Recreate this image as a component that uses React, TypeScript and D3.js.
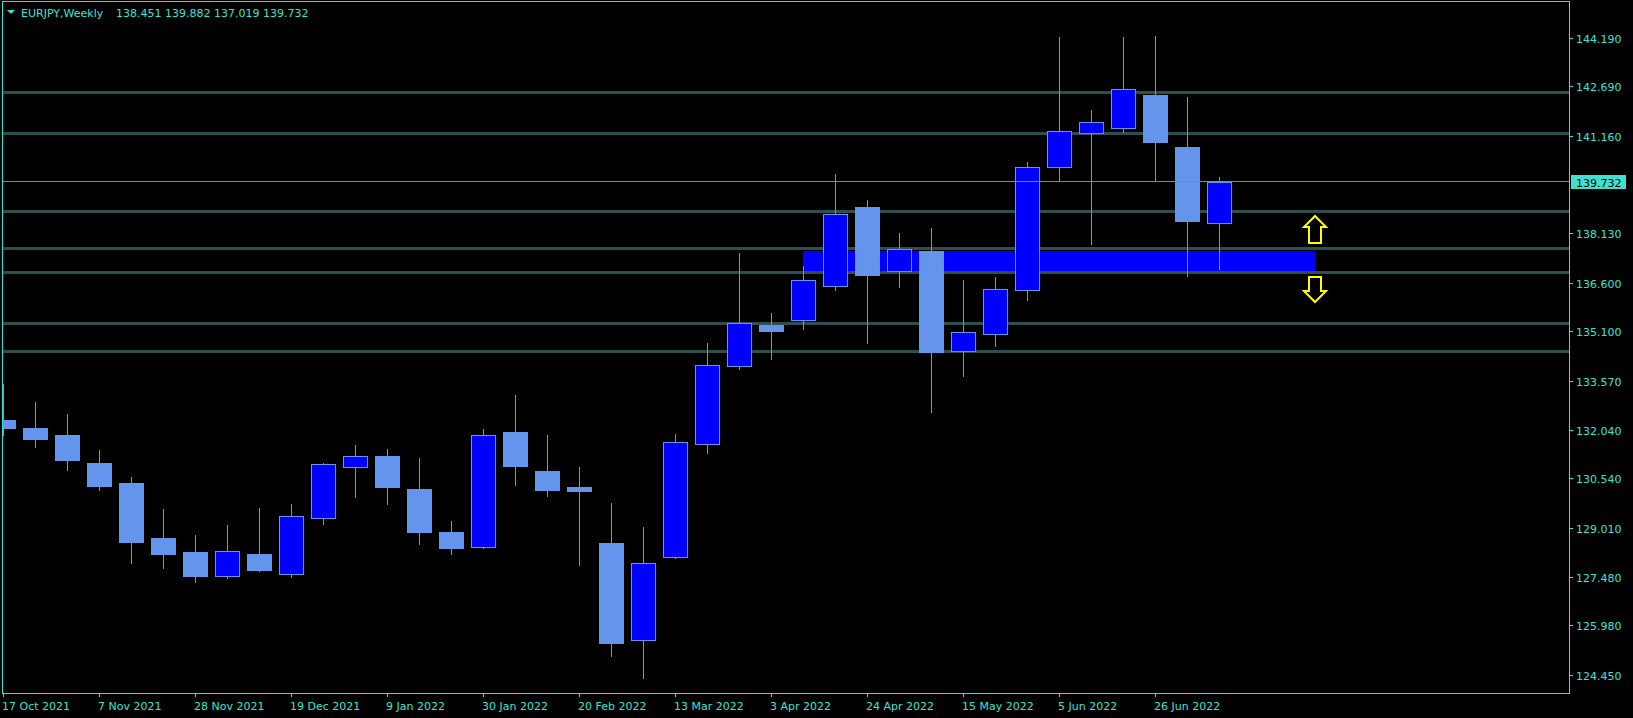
import React from "react";
import * as d3 from "d3";

const symbolTitle = "EURJPY,Weekly";
const headerValues = "138.451 139.882 137.019 139.732";

const opens = [132.349, 132.101, 131.884, 131.016, 130.396, 128.691, 128.257, 127.522, 128.195, 127.584, 129.320, 130.892, 131.233, 130.210, 128.877, 128.421, 131.977, 130.768, 130.272, 128.536, 125.538, 128.102, 131.614, 134.032, 135.293, 135.458, 136.512, 138.951, 136.977, 137.587, 134.497, 135.024, 136.369, 140.182, 141.236, 141.391, 142.423, 140.811, 138.451];
const highs = [133.465, 132.907, 132.535, 131.419, 130.582, 129.590, 128.784, 129.094, 129.621, 129.745, 131.016, 131.574, 131.450, 131.171, 129.218, 132.070, 133.124, 131.884, 130.892, 129.776, 129.032, 131.915, 134.735, 137.525, 135.665, 137.122, 139.974, 139.168, 138.145, 138.300, 136.688, 136.781, 140.346, 144.221, 141.958, 144.221, 144.252, 142.361, 139.882];
const lows = [131.884, 131.512, 130.799, 130.179, 127.916, 127.761, 127.327, 127.451, 127.680, 127.482, 129.125, 129.962, 129.745, 128.505, 128.195, 128.381, 130.334, 129.993, 127.854, 125.033, 124.351, 128.080, 131.326, 133.930, 134.240, 135.170, 136.378, 134.735, 136.471, 132.597, 133.713, 134.642, 136.068, 139.798, 137.814, 141.285, 139.767, 136.822, 137.019];
const closes = [132.110, 131.760, 131.109, 130.303, 128.567, 128.195, 127.513, 128.288, 127.699, 129.373, 130.976, 131.233, 130.272, 128.877, 128.381, 131.874, 130.923, 130.179, 130.148, 125.436, 127.916, 131.667, 134.044, 135.346, 135.107, 136.679, 138.725, 136.843, 137.640, 134.457, 135.067, 136.400, 140.182, 141.298, 141.577, 142.600, 140.976, 138.527, 139.732];

const dateLabels = ["17 Oct 2021", "7 Nov 2021", "28 Nov 2021", "19 Dec 2021", "9 Jan 2022", "30 Jan 2022", "20 Feb 2022", "13 Mar 2022", "3 Apr 2022", "24 Apr 2022", "15 May 2022", "5 Jun 2022", "26 Jun 2022"];
const dateIndices = [0, 3, 6, 9, 12, 15, 18, 21, 24, 27, 30, 33, 36];

const priceTicks = [144.19, 142.69, 141.16, 138.13, 136.6, 135.1, 133.57, 132.04, 130.54, 129.01, 127.48, 125.98, 124.45];
const currentPrice = 139.732;

const hLines = [142.507, 141.236, 138.818, 137.665, 136.927, 135.346, 134.478];
const zoneTop = 137.587;
const zoneBottom = 136.977;
const zoneStartIndex = 25;
const zoneEndIndex = 41;
const arrowIndex = 41;
const upArrowPrice = 138.672;
const downArrowPrice = 136.006;

const W = 1633;
const H = 718;
const LEFT = 3;
const RIGHT = 1569;
const TOP = 2;
const BOTTOM = 693;
const TEXT = "#40E0D0";
const FONT = "'DejaVu Sans', Verdana, sans-serif";

export default function App() {
  const y = d3.scaleLinear().domain([124.45, 144.19]).range([674.8, 38.0]);
  const x = d3.scaleLinear().domain([0, 38]).range([3, 3 + 32 * 38]);
  const py = (p: number) => Math.round(y(p));
  const px = (i: number) => Math.round(x(i));

  const candles = opens.map((o, i) => ({ o, h: highs[i], l: lows[i], c: closes[i], i }));

  const upY = py(upArrowPrice);
  const downY = py(downArrowPrice);
  const ax = px(arrowIndex);

  const upArrow = `M${ax},${upY} L${ax + 11},${upY + 11} L${ax + 6},${upY + 11} L${ax + 6},${upY + 27} L${ax - 6},${upY + 27} L${ax - 6},${upY + 11} L${ax - 11},${upY + 11} Z`;
  const downArrow = `M${ax},${downY} L${ax + 11},${downY - 11} L${ax + 6},${downY - 11} L${ax + 6},${downY - 25} L${ax - 6},${downY - 25} L${ax - 6},${downY - 11} L${ax - 11},${downY - 11} Z`;

  const cpY = py(currentPrice);

  return (
    <svg
      width={W}
      height={H}
      style={{ position: "absolute", left: 0, top: 0, display: "block", background: "#000" }}
      fontFamily={FONT}
    >
      <rect x={0} y={0} width={W} height={H} fill="#000" />
      <defs>
        <clipPath id="plot">
          <rect x={LEFT} y={TOP} width={RIGHT - LEFT} height={BOTTOM - TOP} />
        </clipPath>
      </defs>

      <g clipPath="url(#plot)">
        {/* zone rectangle (background) */}
        <rect
          x={px(zoneStartIndex)}
          y={py(zoneTop)}
          width={px(zoneEndIndex) - px(zoneStartIndex)}
          height={py(zoneBottom) - py(zoneTop)}
          fill="#0000FF"
        />
        {/* horizontal levels */}
        {hLines.map((p, k) => (
          <line key={k} x1={LEFT} x2={RIGHT} y1={py(p) + 0.5} y2={py(p) + 0.5} stroke="#2F4F4F" strokeWidth={3} shapeRendering="crispEdges" />
        ))}
        {/* candles */}
        {candles.map((d) => {
          const cx = px(d.i);
          const bull = d.c > d.o;
          const top = py(Math.max(d.o, d.c));
          const bot = py(Math.min(d.o, d.c));
          return (
            <g key={d.i}>
              <line x1={cx + 0.5} x2={cx + 0.5} y1={py(d.h)} y2={py(d.l) + 1} stroke="#6495ED" strokeWidth={1} shapeRendering="crispEdges" />
              {bull ? (
                <rect x={cx - 12 + 0.5} y={top + 0.5} width={24} height={Math.max(bot - top, 1)} fill="#0000FF" stroke="#6495ED" strokeWidth={1} shapeRendering="crispEdges" />
              ) : (
                <rect x={cx - 12} y={top} width={25} height={Math.max(bot - top + 1, 2)} fill="#6495ED" shapeRendering="crispEdges" />
              )}
            </g>
          );
        })}
        {/* current price line */}
        <line x1={LEFT} x2={RIGHT} y1={cpY - 0.5} y2={cpY - 0.5} stroke="#778899" strokeWidth={1} shapeRendering="crispEdges" />
        {/* arrows */}
        <path d={upArrow} fill="none" stroke="#FFFF00" strokeWidth={2} strokeLinejoin="miter" />
        <path d={downArrow} fill="none" stroke="#FFFF00" strokeWidth={2} strokeLinejoin="miter" />
      </g>

      {/* frame */}
      <rect x={LEFT - 0.5} y={TOP - 0.5} width={RIGHT - LEFT + 1} height={BOTTOM - TOP + 1} fill="none" stroke={TEXT} strokeWidth={1} shapeRendering="crispEdges" />

      {/* header */}
      <path d="M7,10 L15,10 L11,14 Z" fill={TEXT} />
      <text x={21} y={17} fontSize={11} fill={TEXT}>{symbolTitle}</text>
      <text x={116} y={17} fontSize={11} fill={TEXT}>{headerValues}</text>

      {/* price axis */}
      {priceTicks.map((p, k) => (
        <g key={k}>
          <line x1={RIGHT} x2={RIGHT + 4} y1={py(p) + 0.5} y2={py(p) + 0.5} stroke={TEXT} strokeWidth={1} shapeRendering="crispEdges" />
          <text x={1576} y={py(p) + 4.5} fontSize={11} fill={TEXT}>{p.toFixed(3)}</text>
        </g>
      ))}
      <rect x={1571} y={cpY - 7} width={55} height={14} fill={TEXT} />
      <text x={1576} y={cpY + 5} fontSize={11} fill="#000">{currentPrice.toFixed(3)}</text>

      {/* date axis */}
      {dateIndices.map((idx, k) => (
        <g key={k}>
          <line x1={px(idx) + 0.5} x2={px(idx) + 0.5} y1={BOTTOM} y2={BOTTOM + 4} stroke={TEXT} strokeWidth={1} shapeRendering="crispEdges" />
          <text x={px(idx) - 1} y={710} fontSize={11} fill={TEXT}>{dateLabels[k]}</text>
        </g>
      ))}
    </svg>
  );
}
